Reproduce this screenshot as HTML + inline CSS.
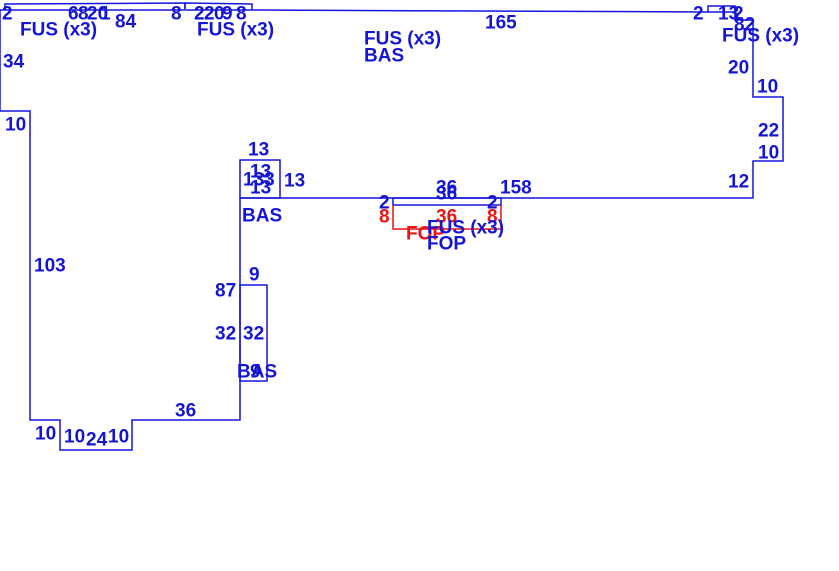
<!DOCTYPE html>
<html><head><meta charset="utf-8"><style>
html,body{margin:0;padding:0;background:#fff;}
svg text{font-family:"Liberation Sans",sans-serif;font-weight:bold;font-size:19px;fill:#1515d5;}
svg text.r{fill:#ee1111;}
</style></head><body>
<svg width="839" height="566" viewBox="0 0 839 566" xmlns="http://www.w3.org/2000/svg">
<g fill="none" stroke="#1515e0" stroke-width="1.5">
<path d="M0,10 L250,10 L708,12 L735,12 L735,20 L753,20 L753,97 L783,97 L783,161 L753,161 L753,198 L240,198 L240,420 L132,420 L132,450 L60,450 L60,420 L30,420 L30,111 L0,111 Z"/>
<path d="M5,10 L5,4 L185,3 L185,9"/>
<path d="M185,9 L185,3 L252,4 L252,10"/>
<path d="M708,12 L708,6 L735,6 L735,14"/>
<rect x="240" y="160" width="40" height="38"/>
<rect x="240" y="285" width="27" height="96"/>
<rect x="393" y="198" width="108" height="7"/>
</g>
<path d="M393,205 L393,229 L501,229 L501,205" fill="none" stroke="#ee1111" stroke-width="1.5"/>
<g transform="translate(0,1.5)">
<text x="2" y="18">2</text>
<text x="68" y="18">6</text><text x="78" y="18">8</text><text x="87" y="18">20</text><text x="100" y="18">1</text>
<text x="20" y="34">FUS (x3)</text>
<text x="115" y="26">84</text>
<text x="171" y="18">8</text>
<text x="194" y="18">2</text><text x="204" y="18">2</text><text x="214" y="18">0</text><text x="222" y="18">9</text><text x="236" y="18">8</text>
<text x="197" y="34">FUS (x3)</text>
<text x="364" y="43">FUS (x3)</text>
<text x="364" y="60">BAS</text>
<text x="485" y="27">165</text>
<text x="693" y="18">2</text>
<text x="718" y="18">13</text><text x="733" y="18">2</text>
<text x="734" y="29">82</text>
<text x="722" y="40">FUS (x3)</text>
<text x="3" y="66">34</text>
<text x="728" y="72">20</text>
<text x="757" y="91">10</text>
<text x="758" y="135">22</text>
<text x="758" y="157">10</text>
<text x="5" y="129">10</text>
<text x="248" y="154">13</text>
<text x="250" y="176">13</text>
<text x="243" y="184">133</text>
<text x="250" y="192">13</text>
<text x="284" y="185">13</text>
<text x="728" y="186">12</text>
<text x="436" y="192">36</text>
<text x="436" y="198">36</text>
<text x="379" y="207">2</text>
<text x="487" y="207">2</text>
<text x="500" y="192">158</text>
<text x="242" y="220">BAS</text>
<text class="r" x="379" y="221">8</text>
<text class="r" x="436" y="221">36</text>
<text class="r" x="487" y="221">8</text>
<text class="r" x="406" y="238">FOP</text>
<text x="427" y="232">FUS (x3)</text>
<text x="427" y="248">FOP</text>
<text x="34" y="270">103</text>
<text x="249" y="279">9</text>
<text x="215" y="295">87</text>
<text x="215" y="338">32</text>
<text x="243" y="338">32</text>
<text x="237" y="376">BAS</text>
<text x="250" y="376">9</text>
<text x="175" y="415">36</text>
<text x="35" y="438">10</text>
<text x="64" y="441">10</text>
<text x="86" y="444">24</text>
<text x="108" y="441">10</text>
</g>
</svg>
</body></html>
